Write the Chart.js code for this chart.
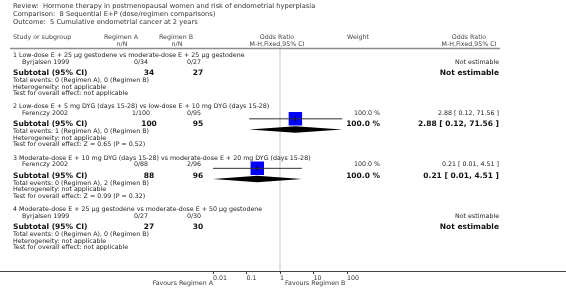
<!DOCTYPE html>
<html>
<head>
<meta charset="utf-8">
<script src="https://cdn.jsdelivr.net/npm/chart.js@4.4.0/dist/chart.umd.min.js"></script>
<style>
  html, body { margin: 0; padding: 0; background: #fff; }
  #wrap { width: 566px; height: 301px; }
</style>
</head>
<body>
<div id="wrap"><canvas id="forest" width="566" height="301"></canvas></div>
<script>
// header text
const titleLines = [
  "Review:  Hormone therapy in postmenopausal women and risk of endometrial hyperplasia",
  "Comparison:  8 Sequential E+P (dose/regimen comparisons)",
  "Outcome:  5 Cumulative endometrial cancer at 2 years"
];

// one entry per subgroup
const groupTitles = [
  "1 Low-dose E + 25 µg gestodene vs moderate-dose E + 25 µg gestodene",
  "2 Low-dose E + 5 mg DYG (days 15-28) vs low-dose E + 10 mg DYG (days 15-28)",
  "3 Moderate-dose E + 10 mg DYG (days 15-28) vs moderate-dose E + 20 mg DYG (days 15-28)",
  "4 Moderate-dose E + 25 µg gestodene vs moderate-dose E + 50 µg gestodene"
];
const studyNames = ["Byrjalsen 1999", "Ferenczy 2002", "Ferenczy 2002", "Byrjalsen 1999"];
const eventsA = ["0/34", "1/100", "0/88", "0/27"];
const eventsB = ["0/27", "0/95", "2/96", "0/30"];
const totalA = [34, 100, 88, 27];
const totalB = [27, 95, 96, 30];
const orEst = [null, 2.88, 0.21, null];
const orLow = [null, 0.12, 0.01, null];
const orHigh = [null, 71.56, 4.51, null];
const weights = [null, 100.0, 100.0, null];
const totalEventsText = [
  "Total events: 0 (Regimen A), 0 (Regimen B)",
  "Total events: 1 (Regimen A), 0 (Regimen B)",
  "Total events: 0 (Regimen A), 2 (Regimen B)",
  "Total events: 0 (Regimen A), 0 (Regimen B)"
];
const heterogeneityText = [
  "Heterogeneity: not applicable",
  "Heterogeneity: not applicable",
  "Heterogeneity: not applicable",
  "Heterogeneity: not applicable"
];
const overallEffectText = [
  "Test for overall effect: not applicable",
  "Test for overall effect: Z = 0.65 (P = 0.52)",
  "Test for overall effect: Z = 0.99 (P = 0.32)",
  "Test for overall effect: not applicable"
];
const xTicks = [0.01, 0.1, 1, 10, 100];

// row layout (pixel rows in the y scale)
const GROUP_TOP = 55.5, GROUP_STEP = 51.3;
const ROW_OFF = { title: 0, study: 6.5, subtotal: 17.5, total: 25, het: 31.5, test: 38 };
const rowY = (g, kind) => GROUP_TOP + g * GROUP_STEP + ROW_OFF[kind];

const FONT = '"DejaVu Sans", Verdana, sans-serif';
const fmt2 = v => v.toFixed(2);
const orText = i => orEst[i] == null ? "Not estimable"
  : fmt2(orEst[i]) + " [ " + fmt2(orLow[i]) + ", " + fmt2(orHigh[i]) + " ]";

// chart data built from the arrays
const ciPoints = [];
const estPoints = [];
orEst.forEach((v, i) => {
  if (v == null) return;
  const y = rowY(i, "study");
  if (ciPoints.length) ciPoints.push({ x: null, y: null });
  ciPoints.push({ x: orLow[i], y }, { x: orHigh[i], y });
  estPoints.push({ x: v, y });
});

const tablePlugin = {
  id: "forestTable",
  beforeDatasetsDraw(chart) {
    const ctx = chart.ctx, xs = chart.scales.x, ys = chart.scales.y;
    ctx.save();
    // line of no effect
    const x1 = xs.getPixelForValue(1);
    ctx.strokeStyle = "#d9d9d9";
    ctx.lineWidth = 1.5;
    ctx.beginPath();
    ctx.moveTo(x1, 49);
    ctx.lineTo(x1, ys.bottom);
    ctx.stroke();
    // header rule
    ctx.strokeStyle = "#8c8c8c";
    ctx.lineWidth = 1.5;
    ctx.beginPath();
    ctx.moveTo(10, 48.5);
    ctx.lineTo(500, 48.5);
    ctx.stroke();
    // bottom rule (axis line across the table)
    ctx.strokeStyle = "#444";
    ctx.lineWidth = 1;
    ctx.beginPath();
    ctx.moveTo(0, ys.bottom + 0.5);
    ctx.lineTo(566, ys.bottom + 0.5);
    ctx.stroke();
    ctx.restore();
  },
  afterDatasetsDraw(chart) {
    const ctx = chart.ctx, xs = chart.scales.x, ys = chart.scales.y;
    ctx.save();
    // pooled diamonds
    ctx.fillStyle = "#000";
    orEst.forEach((v, i) => {
      if (v == null) return;
      const y = ys.getPixelForValue(rowY(i, "subtotal"));
      const l = xs.getPixelForValue(orLow[i]);
      const c = xs.getPixelForValue(v);
      const r = xs.getPixelForValue(orHigh[i]);
      ctx.beginPath();
      ctx.moveTo(l, y);
      ctx.lineTo(c, y - 3.2);
      ctx.lineTo(r, y);
      ctx.lineTo(c, y + 3.2);
      ctx.closePath();
      ctx.fill();
    });

    const txt = (s, x, y, align, size, bold, color) => {
      ctx.font = (bold ? "bold " : "") + size + "px " + FONT;
      ctx.textAlign = align;
      ctx.textBaseline = "middle";
      ctx.fillStyle = color || "#222";
      ctx.fillText(s, x, y);
    };
    const S = 6.3, B = 7.5, T = 6.7;

    titleLines.forEach((s, i) => txt(s, 13, 6.5 + i * 7.7, "left", T, false, "#333"));

    // column headers
    txt("Study or subgroup", 13, 37.5, "left", S, false, "#444");
    txt("Regimen A", 121, 37.5, "center", S, false, "#444");
    txt("n/N", 122, 44, "center", S, false, "#444");
    txt("Regimen B", 176, 37.5, "center", S, false, "#444");
    txt("n/N", 177, 44, "center", S, false, "#444");
    txt("Odds Ratio", 277, 37.5, "center", S, false, "#444");
    txt("M-H,Fixed,95% CI", 277, 44, "center", S, false, "#444");
    txt("Weight", 358, 37.5, "center", S, false, "#444");
    txt("Odds Ratio", 469, 37.5, "center", S, false, "#444");
    txt("M-H,Fixed,95% CI", 469, 44, "center", S, false, "#444");

    groupTitles.forEach((title, g) => {
      txt(title, 13, rowY(g, "title"), "left", S, false);
      const ys1 = rowY(g, "study");
      txt(studyNames[g], 22, ys1, "left", S, false);
      txt(eventsA[g], 141, ys1, "center", S, false);
      txt(eventsB[g], 194, ys1, "center", S, false);
      if (weights[g] != null) txt(weights[g].toFixed(1) + " %", 380, ys1, "right", S, false);
      txt(orText(g), 499, ys1, "right", S, false);

      const ys2 = rowY(g, "subtotal");
      txt("Subtotal (95% CI)", 13, ys2, "left", B, true, "#111");
      txt(String(totalA[g]), 149, ys2, "center", B, true, "#111");
      txt(String(totalB[g]), 198, ys2, "center", B, true, "#111");
      if (weights[g] != null) txt(weights[g].toFixed(1) + " %", 380, ys2, "right", B, true, "#111");
      txt(orText(g), 499, ys2, "right", B, true, "#111");

      txt(totalEventsText[g], 13, rowY(g, "total"), "left", S, false);
      txt(heterogeneityText[g], 13, rowY(g, "het"), "left", S, false);
      txt(overallEffectText[g], 13, rowY(g, "test"), "left", S, false);
    });

    // favours labels under the axis
    const fy = ys.bottom + 12;
    txt("Favours Regimen A", xs.getPixelForValue(0.01), fy, "right", S, false, "#333");
    txt("Favours Regimen B", xs.getPixelForValue(1) + 5, fy, "left", S, false, "#333");
    ctx.restore();
  }
};

new Chart(document.getElementById("forest").getContext("2d"), {
  type: "scatter",
  data: {
    datasets: [
      {
        label: "95% CI",
        data: ciPoints,
        showLine: true,
        spanGaps: false,
        borderColor: "#333",
        borderWidth: 1,
        pointRadius: 0,
        order: 0
      },
      {
        label: "centre",
        data: estPoints,
        pointStyle: "line",
        rotation: 90,
        pointRadius: 2.5,
        borderColor: "#000",
        borderWidth: 1,
        order: 0
      },
      {
        label: "Study",
        data: estPoints,
        pointStyle: "rect",
        pointRadius: 9.5,
        backgroundColor: "#0000ff",
        borderWidth: 0,
        order: 2
      }
    ]
  },
  options: {
    responsive: false,
    animation: false,
    events: [],
    layout: { padding: { left: 213, right: 219, top: 0, bottom: 0 } },
    plugins: { legend: { display: false }, tooltip: { enabled: false } },
    scales: {
      x: {
        type: "logarithmic",
        min: 0.01,
        max: 100,
        afterBuildTicks: s => { s.ticks = xTicks.map(v => ({ value: v })); },
        afterFit: s => { s.height = 30; },
        border: { display: false },
        grid: { drawOnChartArea: false, tickLength: 3, color: "#333" },
        ticks: {
          align: "start",
          autoSkip: false,
          maxRotation: 0,
          padding: 1,
          color: "#333",
          font: { family: FONT, size: 6.3 },
          callback: v => String(v)
        }
      },
      y: { type: "linear", reverse: true, min: 0, max: 271, display: false }
    }
  },
  plugins: [tablePlugin]
});
</script>
</body>
</html>
